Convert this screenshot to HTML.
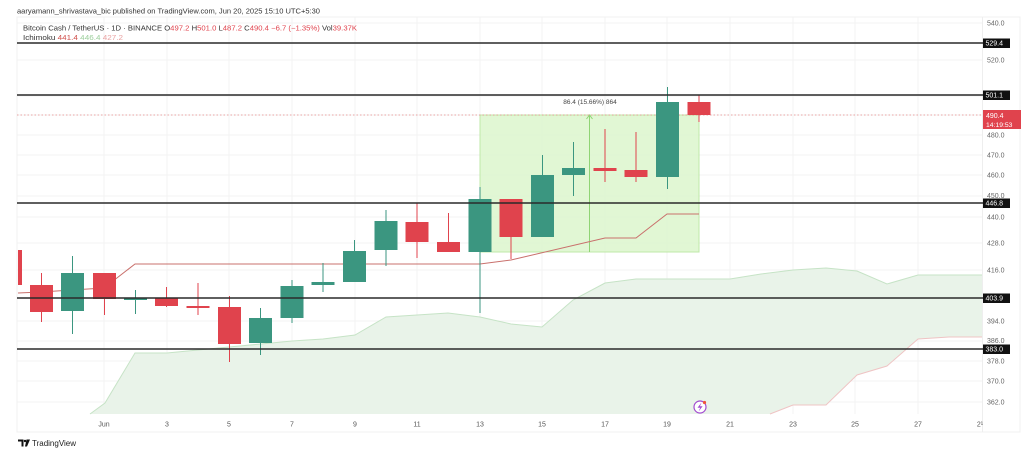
<!DOCTYPE html>
<html><head><meta charset="utf-8"><style>
html,body{margin:0;padding:0;background:#fff;}
svg{display:block;}
text{font-family:"Liberation Sans",Arial,sans-serif;}
</style></head><body>
<svg width="1024" height="459" viewBox="0 0 1024 459" xmlns="http://www.w3.org/2000/svg">
<rect width="1024" height="459" fill="#fff"/>
<!-- frame -->
<rect x="17" y="17" width="1003" height="415" fill="none" stroke="#f0f0f0" stroke-width="1"/>
<line x1="982.5" y1="17" x2="982.5" y2="432" stroke="#eeeeee"/>
<!-- grid horizontal -->
<g stroke="#f3f3f3" stroke-width="1">
<line x1="17" y1="23" x2="982" y2="23"/><line x1="17" y1="60" x2="982" y2="60"/>
<line x1="17" y1="96" x2="982" y2="96"/><line x1="17" y1="115" x2="982" y2="115"/>
<line x1="17" y1="135" x2="982" y2="135"/><line x1="17" y1="155" x2="982" y2="155"/>
<line x1="17" y1="175" x2="982" y2="175"/><line x1="17" y1="196" x2="982" y2="196"/>
<line x1="17" y1="217" x2="982" y2="217"/><line x1="17" y1="243" x2="982" y2="243"/>
<line x1="17" y1="270" x2="982" y2="270"/><line x1="17" y1="321" x2="982" y2="321"/>
<line x1="17" y1="341" x2="982" y2="341"/><line x1="17" y1="361" x2="982" y2="361"/>
<line x1="17" y1="381" x2="982" y2="381"/><line x1="17" y1="402" x2="982" y2="402"/>
</g>
<!-- grid vertical -->
<g stroke="#f3f3f3" stroke-width="1">
<line x1="104" y1="17" x2="104" y2="414"/><line x1="167" y1="17" x2="167" y2="414"/>
<line x1="229" y1="17" x2="229" y2="414"/><line x1="292" y1="17" x2="292" y2="414"/>
<line x1="355" y1="17" x2="355" y2="414"/><line x1="417" y1="17" x2="417" y2="414"/>
<line x1="480" y1="17" x2="480" y2="414"/><line x1="542" y1="17" x2="542" y2="414"/>
<line x1="605" y1="17" x2="605" y2="414"/><line x1="667" y1="17" x2="667" y2="414"/>
<line x1="730" y1="17" x2="730" y2="414"/><line x1="793" y1="17" x2="793" y2="414"/>
<line x1="855" y1="17" x2="855" y2="414"/><line x1="918" y1="17" x2="918" y2="414"/>
</g>
<!-- cloud -->
<polygon fill="#e9f3e9" points="90,414 105,403 135,353 167,353 198,350 229,347 261,344 292,341 323,339 355,335 386,317 417,315 448,313 480,317 511,324 542,327 573,300 605,283 636,279 667,279 699,279 730,279 761,274 793,270 826,268 857,271 887,284 918,275 949,275 982,275 982,337 949,337 918,339 887,366 857,375 826,405 793,405 770,414"/>
<polyline fill="none" stroke="#c6e3c6" stroke-width="1" points="90,414 105,403 135,353 167,353 198,350 229,347 261,344 292,341 323,339 355,335 386,317 417,315 448,313 480,317 511,324 542,327 573,300 605,283 636,279 667,279 699,279 730,279 761,274 793,270 826,268 857,271 887,284 918,275 949,275 982,275"/>
<polyline fill="none" stroke="#efc4c4" stroke-width="1" points="770,414 793,405 826,405 857,375 887,366 918,339 949,337 982,337"/>
<!-- measurement box -->
<rect x="480" y="115" width="219" height="137" fill="#dcf6cc" fill-opacity="0.85" stroke="#bfe8a8" stroke-width="1"/>
<line x1="589.5" y1="116" x2="589.5" y2="252" stroke="#8fd474" stroke-width="1"/>
<path d="M586.5 119 L589.5 115 L592.5 119" fill="none" stroke="#8fd474" stroke-width="1"/>
<text x="590" y="104" font-size="6.5" fill="#444" text-anchor="middle">86.4 (15.66%) 864</text>
<!-- current price dotted -->
<line x1="17" y1="115" x2="982" y2="115" stroke="#e88a8a" stroke-width="0.8" stroke-dasharray="1.5,2"/>
<!-- base line -->
<polyline fill="none" stroke="#c9706c" stroke-width="1" points="18,293 41,292 72,290 104,288 135,264 480,264 511,260 605,238 636,238 667,214 699,214"/>
<!-- candles -->
<g stroke-width="1">
<!-- May29 -->
<rect x="18" y="250" width="4" height="35" fill="#e0434d"/>
<!-- May30 -->
<line x1="41.5" y1="273" x2="41.5" y2="322" stroke="#e0434d"/><rect x="30" y="285" width="23" height="27" fill="#e0434d"/>
<!-- May31 -->
<line x1="72.5" y1="256" x2="72.5" y2="334" stroke="#3b9680"/><rect x="61" y="273" width="23" height="38" fill="#3b9680"/>
<!-- Jun1 -->
<line x1="104.5" y1="273" x2="104.5" y2="315" stroke="#e0434d"/><rect x="93" y="273" width="23" height="26" fill="#e0434d"/>
<!-- Jun2 -->
<line x1="135.5" y1="290" x2="135.5" y2="314" stroke="#3b9680"/><rect x="124" y="298" width="23" height="2" fill="#3b9680"/>
<!-- Jun3 -->
<line x1="166.5" y1="287" x2="166.5" y2="307" stroke="#e0434d"/><rect x="155" y="298" width="23" height="8" fill="#e0434d"/>
<!-- Jun4 -->
<line x1="198" y1="283" x2="198" y2="315" stroke="#e0434d"/><rect x="186.5" y="306" width="23" height="2" fill="#e0434d"/>
<!-- Jun5 -->
<line x1="229.5" y1="296" x2="229.5" y2="362" stroke="#e0434d"/><rect x="218" y="307" width="23" height="37" fill="#e0434d"/>
<!-- Jun6 -->
<line x1="260.5" y1="308" x2="260.5" y2="355" stroke="#3b9680"/><rect x="249" y="318" width="23" height="25" fill="#3b9680"/>
<!-- Jun7 -->
<line x1="292" y1="280" x2="292" y2="323" stroke="#3b9680"/><rect x="280.5" y="286" width="23" height="32" fill="#3b9680"/>
<!-- Jun8 -->
<line x1="323" y1="263" x2="323" y2="292" stroke="#3b9680"/><rect x="311.5" y="282" width="23" height="3" fill="#3b9680"/>
<!-- Jun9 -->
<line x1="354.5" y1="240" x2="354.5" y2="282" stroke="#3b9680"/><rect x="343" y="251" width="23" height="31" fill="#3b9680"/>
<!-- Jun10 -->
<line x1="386" y1="210" x2="386" y2="266" stroke="#3b9680"/><rect x="374.5" y="221" width="23" height="29" fill="#3b9680"/>
<!-- Jun11 -->
<line x1="417" y1="203" x2="417" y2="258" stroke="#e0434d"/><rect x="405.5" y="222" width="23" height="20" fill="#e0434d"/>
<!-- Jun12 -->
<line x1="448.5" y1="213" x2="448.5" y2="252" stroke="#e0434d"/><rect x="437" y="242" width="23" height="10" fill="#e0434d"/>
<!-- Jun13 -->
<line x1="480" y1="187" x2="480" y2="313" stroke="#3b9680"/><rect x="468.5" y="199" width="23" height="53" fill="#3b9680"/>
<!-- Jun14 -->
<line x1="511" y1="199" x2="511" y2="259" stroke="#e0434d"/><rect x="499.5" y="199" width="23" height="38" fill="#e0434d"/>
<!-- Jun15 -->
<line x1="542.5" y1="155" x2="542.5" y2="237" stroke="#3b9680"/><rect x="531" y="175" width="23" height="62" fill="#3b9680"/>
<!-- Jun16 -->
<line x1="573.5" y1="142" x2="573.5" y2="196" stroke="#3b9680"/><rect x="562" y="168" width="23" height="7" fill="#3b9680"/>
<!-- Jun17 -->
<line x1="605" y1="129" x2="605" y2="182" stroke="#e0434d"/><rect x="593.5" y="168" width="23" height="3" fill="#e0434d"/>
<!-- Jun18 -->
<line x1="636" y1="132" x2="636" y2="182" stroke="#e0434d"/><rect x="624.5" y="170" width="23" height="7" fill="#e0434d"/>
<!-- Jun19 -->
<line x1="667.5" y1="87" x2="667.5" y2="189" stroke="#3b9680"/><rect x="656" y="102" width="23" height="75" fill="#3b9680"/>
<!-- Jun20 -->
<line x1="699" y1="95" x2="699" y2="122" stroke="#e0434d"/><rect x="687.5" y="102" width="23" height="13" fill="#e0434d"/>
</g>
<!-- horizontal levels -->
<g stroke="#2a2a2a" stroke-width="1.6">
<line x1="17" y1="43" x2="983" y2="43"/>
<line x1="17" y1="95" x2="983" y2="95"/>
<line x1="17" y1="203" x2="983" y2="203"/>
<line x1="17" y1="298" x2="983" y2="298"/>
<line x1="17" y1="349" x2="983" y2="349"/>
</g>
<!-- lightning icon -->
<circle cx="700" cy="407" r="6" fill="#fff" stroke="#a24bd0" stroke-width="1.2"/>
<path d="M701.5 402.5 L697.5 407.8 L700.2 407.8 L698.6 411.5 L702.6 406.2 L699.9 406.2 Z" fill="#a24bd0"/>
<circle cx="704.5" cy="402.5" r="1.6" fill="#f0553a"/>
<!-- price axis labels -->
<g font-size="7" fill="#666">
<text x="987" y="25.5">540.0</text>
<text x="987" y="62.5">520.0</text>
<text x="987" y="137.5">480.0</text>
<text x="987" y="157.5">470.0</text>
<text x="987" y="177.5">460.0</text>
<text x="987" y="198">450.0</text>
<text x="987" y="219.5">440.0</text>
<text x="987" y="245.5">428.0</text>
<text x="987" y="272.5">416.0</text>
<text x="987" y="323.5">394.0</text>
<text x="987" y="343">386.0</text>
<text x="987" y="363.5">378.0</text>
<text x="987" y="383.5">370.0</text>
<text x="987" y="404.5">362.0</text>
</g>
<!-- badges -->
<g font-size="7" fill="#fff">
<rect x="983" y="38.5" width="27" height="9.5" fill="#111"/><text x="985.5" y="45.7">529.4</text>
<rect x="983" y="90.5" width="27" height="9.5" fill="#111"/><text x="985.5" y="97.7">501.1</text>
<rect x="983" y="198.5" width="27" height="9.5" fill="#111"/><text x="985.5" y="205.7">446.8</text>
<rect x="983" y="293.5" width="27" height="9.5" fill="#111"/><text x="985.5" y="300.7">403.9</text>
<rect x="983" y="344.5" width="27" height="9.5" fill="#111"/><text x="985.5" y="351.7">383.0</text>
<rect x="983" y="110" width="38" height="19" fill="#e0434d"/>
<text x="986" y="118">490.4</text>
<text x="986" y="127" font-size="6.8">14:19:53</text>
</g>
<!-- date labels -->
<g font-size="7" fill="#555" text-anchor="middle">
<text x="104" y="426.5">Jun</text>
<text x="167" y="426.5">3</text>
<text x="229" y="426.5">5</text>
<text x="292" y="426.5">7</text>
<text x="355" y="426.5">9</text>
<text x="417" y="426.5">11</text>
<text x="480" y="426.5">13</text>
<text x="542" y="426.5">15</text>
<text x="605" y="426.5">17</text>
<text x="667" y="426.5">19</text>
<text x="730" y="426.5">21</text>
<text x="793" y="426.5">23</text>
<text x="855" y="426.5">25</text>
<text x="918" y="426.5">27</text>
<text x="980" y="426.5">2¹</text>
</g>
<!-- header -->
<text x="17" y="13.5" font-size="7.5" fill="#333" textLength="303" lengthAdjust="spacingAndGlyphs">aaryamann_shrivastava_bic published on TradingView.com, Jun 20, 2025 15:10 UTC+5:30</text>
<text x="23" y="30.5" font-size="7" fill="#333" textLength="334" lengthAdjust="spacingAndGlyphs">Bitcoin Cash / TetherUS · 1D · BINANCE  O<tspan fill="#e0434d">497.2</tspan>  H<tspan fill="#e0434d">501.0</tspan>  L<tspan fill="#e0434d">487.2</tspan>  C<tspan fill="#e0434d">490.4</tspan>  <tspan fill="#e0434d">−6.7 (−1.35%)</tspan>  Vol<tspan fill="#e0434d">39.37K</tspan></text>
<text x="23" y="40" font-size="7" fill="#333" textLength="100" lengthAdjust="spacingAndGlyphs">Ichimoku  <tspan fill="#d0504c">441.4</tspan>  <tspan fill="#9ccf9c">446.4</tspan>  <tspan fill="#eaa3a3">427.2</tspan></text>
<!-- logo -->
<g fill="#111">
<path d="M18 439.5 H23.5 V446.5 H21.5 V441.5 H18 Z"/>
<circle cx="25" cy="441" r="1.2"/>
<path d="M26.5 439.5 H30 L27 446.5 H25 Z"/>
</g>
<text x="32" y="446" font-size="8" fill="#222">TradingView</text>
</svg>
</body></html>
